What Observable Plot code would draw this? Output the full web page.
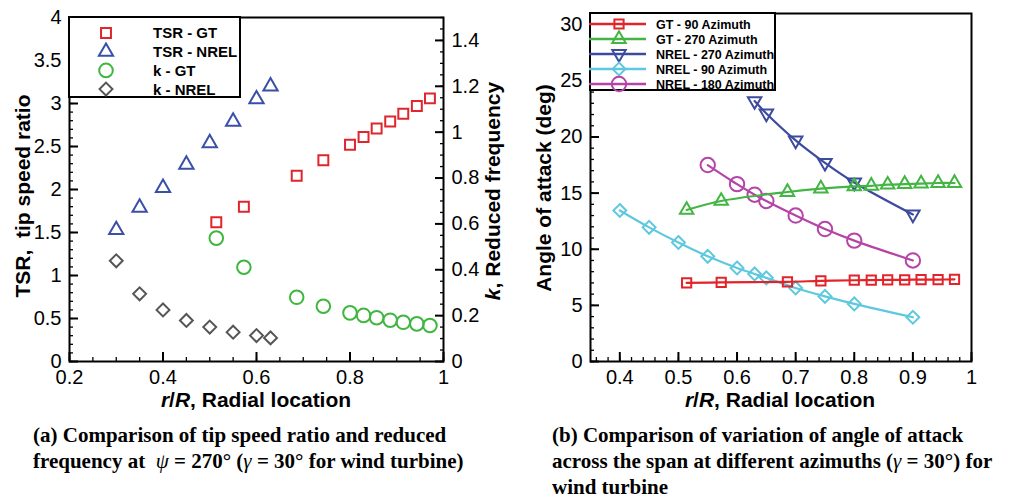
<!DOCTYPE html>
<html><head><meta charset="utf-8">
<script src="https://cdn.jsdelivr.net/npm/d3@7"></script>
<script src="https://cdn.jsdelivr.net/npm/@observablehq/plot@0.6"></script>
<style>
html,body{margin:0;padding:0;background:#fff}
body{width:1010px;height:497px;overflow:hidden;position:relative;font-family:"Liberation Sans",Arial,sans-serif;color:#000}
.panel{position:absolute;top:0;width:505px;height:420px}
.lab{position:absolute;white-space:nowrap;font-weight:bold;font-size:21px;line-height:21px;transform:translate(-50%,-50%)}
.rot{transform:translate(-50%,-50%) rotate(-90deg)}
.cap{position:absolute;white-space:nowrap;font-family:"Liberation Serif","Times New Roman",serif;font-weight:bold;font-size:21px;line-height:26px}
.m{font-weight:normal;font-style:italic}
.leg{position:absolute;background:#fff;border:2px solid #000;box-sizing:border-box}
</style></head><body>
<div id="pa" class="panel" style="left:0"></div>
<div id="pb" class="panel" style="left:505px"></div>

<div class="lab rot" style="left:22px;top:196px">TSR,&nbsp; tip speed ratio</div>
<div class="lab rot" style="left:492px;top:191px"><i>k</i>, Reduced frequency</div>
<div class="lab" style="left:256px;top:399px"><i>r</i>/<i>R</i>, Radial location</div>
<div class="lab rot" style="left:543px;top:188px">Angle of attack (deg)</div>
<div class="lab" style="left:780px;top:399px"><i>r</i>/<i>R</i>, Radial location</div>

<div class="cap" style="left:33px;top:422px">(a) Comparison of tip speed ratio and reduced<br>frequency at &nbsp;<span class="m">ψ</span> = 270° (<span class="m">γ</span> = 30° for wind turbine)</div>
<div class="cap" style="left:552px;top:422px">(b) Comparison of variation of angle of attack<br>across the span at different azimuths (<span class="m">γ</span> = 30°) for<br>wind turbine</div>

<script>
// ---------- data: panel (a) ----------
const rGT = [0.514, 0.573, 0.686, 0.743, 0.8, 0.829, 0.857, 0.886, 0.914, 0.943, 0.971];
const rNRELa = [0.3, 0.35, 0.4, 0.45, 0.5, 0.55, 0.6, 0.63];
const tsrGT = [1.62, 1.80, 2.16, 2.34, 2.52, 2.61, 2.71, 2.79, 2.88, 2.97, 3.06];
const tsrNREL = [1.53, 1.79, 2.02, 2.29, 2.54, 2.79, 3.05, 3.20];
const kGT = [0.538, 0.411, 0.280, 0.241, 0.212, 0.201, 0.191, 0.180, 0.171, 0.164, 0.157];
const kNREL = [0.439, 0.295, 0.225, 0.179, 0.150, 0.128, 0.113, 0.103];
const xTicksA = [0.2, 0.4, 0.6, 0.8, 1];
const yTicksA = [0, 0.5, 1, 1.5, 2, 2.5, 3, 3.5, 4];
const kTicks = [0, 0.2, 0.4, 0.6, 0.8, 1, 1.2, 1.4];
const legendA = ["TSR - GT", "TSR - NREL", "k - GT", "k - NREL"];

// ---------- data: panel (b) ----------
const aoaGT90 = [7.0, 7.05, 7.1, 7.18, 7.24, 7.25, 7.27, 7.28, 7.3, 7.3, 7.32];
const aoaGT270 = [13.5, 14.3, 15.1, 15.4, 15.6, 15.65, 15.75, 15.8, 15.85, 15.9, 15.9];
const rNREL270 = [0.63, 0.65, 0.7, 0.75, 0.8, 0.9];
const aoaNREL270 = [23.2, 22.1, 19.7, 17.7, 15.95, 13.1];
const rNREL90 = [0.4, 0.45, 0.5, 0.55, 0.6, 0.63, 0.65, 0.7, 0.75, 0.8, 0.9];
const aoaNREL90 = [13.45, 11.95, 10.6, 9.37, 8.33, 7.8, 7.45, 6.55, 5.8, 5.13, 3.94];
const rNREL180 = [0.55, 0.6, 0.63, 0.65, 0.7, 0.75, 0.8, 0.9];
const aoaNREL180 = [17.5, 15.8, 14.86, 14.3, 13.0, 11.8, 10.77, 9.0];
const xTicksB = [0.4, 0.5, 0.6, 0.7, 0.8, 0.9, 1];
const yTicksB = [0, 5, 10, 15, 20, 25, 30];
const legendB = ["GT - 90 Azimuth", "GT - 270 Azimuth", "NREL - 270 Azimuth", "NREL - 90 Azimuth", "NREL - 180 Azimuth"];

// ---------- styles ----------
const colA = ["#e0262c", "#3a4fa8", "#3fb63f", "#555555"];
const colB = ["#e3232a", "#43b543", "#3d4b9e", "#5ec8de", "#b445a7"];

const ratio = 4 / 1.5; // k axis -> TSR axis
const fmt = d => String(Math.round(d * 1000) / 1000);
const tbl = (xs, ys) => xs.map((x, i) => ({x, y: ys[i]}));
const dot = (data, symbol, color, r, extra = {}) =>
  Plot.dot(data, {x: "x", y: "y", symbol, r, stroke: color, strokeWidth: 2, fill: "none", ...extra});

const plotStyle = {fontFamily: "'Liberation Sans', Arial, sans-serif", fontSize: "20px", color: "black", background: "white", overflow: "visible"};

// inward ticks: a positive tick length shifted back inside the frame by the same amount
function inAxisX(major, minor, fmtFn) {
  return [
    Plot.axisX(minor, {anchor: "bottom", tickSize: 4, dy: -4, tickFormat: () => "", label: null, strokeWidth: 1.3}),
    Plot.axisX(major, {anchor: "bottom", tickSize: 9, dy: -9, tickFormat: () => "", label: null, strokeWidth: 2}),
    Plot.axisX(major, {anchor: "bottom", tickSize: 0, tickPadding: 8, tickFormat: fmtFn, label: null})
  ];
}
function inAxisY(anchor, major, minor, fmtFn) {
  const s = anchor === "left" ? 1 : -1;
  return [
    Plot.axisY(minor, {anchor, tickSize: 4, dx: 4 * s, tickFormat: () => "", label: null, strokeWidth: 1.3}),
    Plot.axisY(major, {anchor, tickSize: 9, dx: 9 * s, tickFormat: () => "", label: null, strokeWidth: 2}),
    Plot.axisY(major, {anchor, tickSize: 0, tickPadding: 8, tickFormat: fmtFn, label: null})
  ];
}

// ---------- panel (a) ----------
const plotA = Plot.plot({
  width: 505, height: 420,
  marginLeft: 69, marginRight: 62, marginTop: 17, marginBottom: 59,
  style: plotStyle,
  x: {domain: [0.2, 1]},
  y: {domain: [0, 4]},
  marks: [
    ...inAxisX(xTicksA, d3.range(0.2, 1.0001, 0.05), fmt),
    ...inAxisY("left", yTicksA, d3.range(0, 4.0001, 0.1), fmt),
    ...inAxisY("right", kTicks.map(k => k * ratio), d3.range(0, 1.5001, 0.05).map(k => k * ratio), d => fmt(d / ratio)),
    dot(tbl(rGT, tsrGT), "square", colA[0], 5.6),
    dot(tbl(rNRELa, tsrNREL), "triangle", colA[1], 5.3),
    dot(tbl(rGT, kGT.map(k => k * ratio)), "circle", colA[2], 6.8),
    dot(tbl(rNRELa, kNREL.map(k => k * ratio)), "diamond2", colA[3], 5.8),
    Plot.frame({stroke: "black", strokeWidth: 2})
  ]
});
document.getElementById("pa").append(plotA);

// ---------- panel (b) ----------
const seriesB = [
  {data: tbl(rGT, aoaGT90), symbol: "square", r: 5.2, rot: 0},
  {data: tbl(rGT, aoaGT270), symbol: "triangle", r: 5.0, rot: 0},
  {data: tbl(rNREL270, aoaNREL270), symbol: "triangle", r: 5.0, rot: 180},
  {data: tbl(rNREL90, aoaNREL90), symbol: "diamond2", r: 5.8, rot: 0},
  {data: tbl(rNREL180, aoaNREL180), symbol: "circle", r: 7.2, rot: 0}
];
const drawOrder = [3, 4, 2, 1, 0];
const plotB = Plot.plot({
  width: 505, height: 420,
  marginLeft: 85, marginRight: 39, marginTop: 13, marginBottom: 59,
  style: plotStyle,
  x: {domain: [0.35, 1]},
  y: {domain: [0, 31]},
  marks: [
    ...inAxisX(xTicksB, d3.range(0.36, 1.0001, 0.02), fmt),
    ...inAxisY("left", yTicksB, d3.range(0, 31, 1), fmt),
    ...drawOrder.flatMap(i => [
      Plot.line(seriesB[i].data, {x: "x", y: "y", stroke: colB[i], strokeWidth: 2.2, curve: "catmull-rom"}),
      dot(seriesB[i].data, seriesB[i].symbol, colB[i], seriesB[i].r, {rotate: seriesB[i].rot})
    ]),
    Plot.frame({stroke: "black", strokeWidth: 2})
  ]
});
document.getElementById("pb").append(plotB);

// ---------- legends ----------
const symMap = {square: d3.symbolSquare, triangle: d3.symbolTriangle, circle: d3.symbolCircle, diamond2: d3.symbolDiamond2};
function legend(box, items) {
  const div = d3.select("body").append("div").attr("class", "leg")
    .style("left", box.left + "px").style("top", box.top + "px")
    .style("width", box.width + "px").style("height", box.height + "px");
  const svg = div.append("svg").attr("width", box.width).attr("height", box.height + 12)
    .style("position", "absolute").style("left", "-2px").style("top", "-2px").style("overflow", "visible");
  items.forEach((it, i) => {
    const y = box.row0 + i * box.dy;
    if (box.line) svg.append("line").attr("x1", 0).attr("x2", box.lineEnd).attr("y1", y).attr("y2", y)
      .attr("stroke", it.color).attr("stroke-width", 2.5);
    svg.append("path").attr("d", d3.symbol(symMap[it.symbol], Math.PI * it.r * it.r)())
      .attr("transform", `translate(${box.symX},${y}) rotate(${it.rot || 0})`)
      .attr("fill", "none").attr("stroke", it.color).attr("stroke-width", 2);
    svg.append("text").attr("x", box.textX).attr("y", y).attr("dy", "0.36em")
      .attr("font-family", "'Liberation Sans', Arial, sans-serif").attr("font-weight", "bold")
      .attr("font-size", box.fontSize).text(it.label);
  });
}
legend({left: 68, top: 16, width: 173, height: 82, row0: 17, dy: 18.7, symX: 38, textX: 85, fontSize: 15, line: false},
  legendA.map((label, i) => ({label, color: colA[i], symbol: ["square", "triangle", "circle", "diamond2"][i], r: [5.6, 5.3, 6.8, 5.8][i]})));
legend({left: 589, top: 12, width: 187, height: 79, row0: 12, dy: 15, symX: 30, textX: 67, fontSize: 12.5, line: true, lineEnd: 57},
  legendB.map((label, i) => ({label, color: colB[i], symbol: seriesB[i].symbol, r: seriesB[i].r, rot: seriesB[i].rot})));
</script>
</body></html>
